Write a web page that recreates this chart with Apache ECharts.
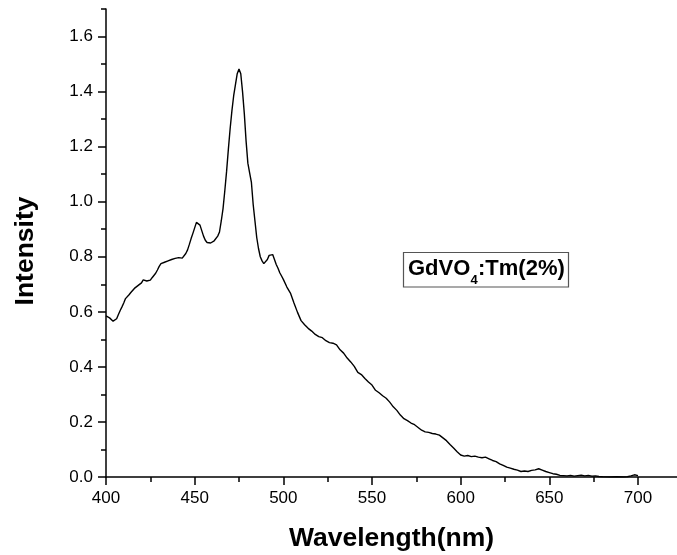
<!DOCTYPE html>
<html>
<head>
<meta charset="utf-8">
<script src="https://cdn.jsdelivr.net/npm/echarts@6/dist/echarts.min.js"></script>
<style>
  html, body { margin: 0; padding: 0; background: #fff; }
  #chart { width: 677px; height: 555px; }
</style>
</head>
<body>
<div id="chart"></div>
<script>
// wavelength (nm) and intensity
const wavelength = [
  400, 401, 402, 403, 404, 405, 406, 407, 408, 409,
  410, 411, 412, 413, 414, 415, 416, 417, 418, 419,
  420, 421, 422, 423, 424, 425, 426, 427, 428, 429,
  430, 431, 432, 433, 434, 435, 436, 437, 438, 439,
  440, 441, 442, 443, 444, 445, 446, 447, 448, 449,
  450, 451, 452, 453, 454, 455, 456, 457, 458, 459,
  460, 461, 462, 463, 464, 465, 466, 467, 468, 469,
  470, 471, 472, 473, 474, 475, 476, 477, 478, 479,
  480, 481, 482, 483, 484, 485, 486, 487, 488, 489,
  490, 491, 492, 493, 494, 495, 496, 497, 498, 499,
  500, 502, 504, 506, 508, 510, 512, 514, 516, 518,
  520, 522, 524, 526, 528, 530, 532, 534, 536, 538,
  540, 542, 544, 546, 548, 550, 552, 554, 556, 558,
  560, 562, 564, 566, 568, 570, 572, 574, 576, 578,
  580, 582, 584, 586, 588, 590, 592, 594, 596, 598,
  600, 602, 604, 606, 608, 610, 612, 614, 616, 618,
  620, 622, 624, 626, 628, 630, 632, 634, 636, 638,
  640, 642, 644, 646, 648, 650, 652, 654, 656, 658,
  660, 662, 664, 666, 668, 670, 672, 674, 676, 678,
  680, 684, 688, 692, 694, 696, 698, 699, 700
];
const intensity = [
  0.585, 0.580, 0.578, 0.572, 0.566, 0.568, 0.575, 0.590, 0.605, 0.618,
  0.632, 0.648, 0.655, 0.662, 0.670, 0.675, 0.685, 0.688, 0.695, 0.699,
  0.705, 0.716, 0.710, 0.712, 0.706, 0.715, 0.724, 0.732, 0.740, 0.752,
  0.765, 0.775, 0.772, 0.780, 0.778, 0.785, 0.782, 0.790, 0.788, 0.794,
  0.790, 0.797, 0.792, 0.795, 0.800, 0.812, 0.825, 0.845, 0.866, 0.885,
  0.905, 0.925, 0.928, 0.915, 0.895, 0.875, 0.860, 0.852, 0.848, 0.850,
  0.853, 0.858, 0.865, 0.875, 0.890, 0.930, 0.975, 1.040, 1.110, 1.190,
  1.265, 1.330, 1.385, 1.425, 1.465, 1.482, 1.465, 1.400, 1.320, 1.220,
  1.140, 1.105, 1.070, 0.990, 0.930, 0.870, 0.830, 0.800, 0.785, 0.775,
  0.772, 0.790, 0.805, 0.812, 0.808, 0.790, 0.772, 0.758, 0.742, 0.730,
  0.718, 0.690, 0.668, 0.632, 0.598, 0.568, 0.553, 0.540, 0.530, 0.518,
  0.510, 0.506, 0.495, 0.488, 0.486, 0.480, 0.462, 0.450, 0.432, 0.418,
  0.402, 0.380, 0.372, 0.358, 0.345, 0.334, 0.315, 0.306, 0.295, 0.286,
  0.272, 0.255, 0.242, 0.225, 0.212, 0.205, 0.196, 0.190, 0.180, 0.170,
  0.164, 0.162, 0.158, 0.156, 0.152, 0.142, 0.132, 0.118, 0.105, 0.092,
  0.080, 0.076, 0.078, 0.074, 0.076, 0.072, 0.070, 0.072, 0.066, 0.060,
  0.056, 0.048, 0.042, 0.036, 0.032, 0.028, 0.025, 0.020, 0.022, 0.020,
  0.024, 0.026, 0.030, 0.025, 0.020, 0.016, 0.012, 0.010, 0.006, 0.005,
  0.004, 0.006, 0.003, 0.005, 0.007, 0.004, 0.006, 0.003, 0.004, 0.002,
  0.001, 0.000, 0.001, 0.000, 0.001, 0.004, 0.008, 0.010, 0.005
];

const xMajorTicks = [400, 450, 500, 550, 600, 650, 700];
const xMinorTicks = [400, 425, 450, 475, 500, 525, 550, 575, 600, 625, 650, 675, 700];
const yMajorTicks = [0, 0.2, 0.4, 0.6, 0.8, 1.0, 1.2, 1.4, 1.6];
const yMinorTicks = [0, 0.1, 0.2, 0.3, 0.4, 0.5, 0.6, 0.7, 0.8, 0.9, 1.0, 1.1, 1.2, 1.3, 1.4, 1.5, 1.6, 1.7];

const font = 'Arial, "Liberation Sans", Helvetica, sans-serif';
const axisColor = '#000';

const chart = echarts.init(document.getElementById('chart'));

chart.setOption({
  animation: false,
  backgroundColor: '#fff',
  grid: { left: 106, right: 0, top: 9, bottom: 78, outerBoundsMode: 'none', containLabel: false },
  xAxis: [
    {
      type: 'value',
      position: 'bottom',
      min: 400,
      max: 722,
      name: 'Wavelength(nm)',
      nameLocation: 'middle',
      nameGap: 48,
      nameTextStyle: { fontFamily: font, fontSize: 26.5, fontWeight: 'bold', color: '#000' },
      axisLine: { show: true, onZero: false, lineStyle: { color: axisColor, width: 1.5 } },
      axisTick: { show: true, inside: false, length: 8, customValues: xMajorTicks, lineStyle: { color: axisColor, width: 1.5 } },
      axisLabel: { customValues: xMajorTicks, margin: 13, fontFamily: font, fontSize: 17, color: '#000' },
      splitLine: { show: false }
    },
    {
      type: 'value',
      position: 'bottom',
      min: 400,
      max: 722,
      axisLine: { show: false },
      axisTick: { show: true, inside: false, length: 5, customValues: xMinorTicks, lineStyle: { color: axisColor, width: 1.5 } },
      axisLabel: { show: false },
      splitLine: { show: false }
    }
  ],
  yAxis: [
    {
      type: 'value',
      position: 'left',
      min: 0,
      max: 1.7,
      name: 'Intensity',
      nameLocation: 'middle',
      nameGap: 67,
      nameTextStyle: { fontFamily: font, fontSize: 26.5, fontWeight: 'bold', color: '#000', padding: [0, 16, 0, 0] },
      axisLine: { show: true, onZero: false, lineStyle: { color: axisColor, width: 1.5 } },
      axisTick: { show: true, inside: false, length: 8, customValues: yMajorTicks, lineStyle: { color: axisColor, width: 1.5 } },
      axisLabel: {
        customValues: yMajorTicks,
        margin: 13,
        fontFamily: font,
        fontSize: 17,
        color: '#000',
        formatter: v => v.toFixed(1)
      },
      splitLine: { show: false }
    },
    {
      type: 'value',
      position: 'left',
      min: 0,
      max: 1.7,
      axisLine: { show: false },
      axisTick: { show: true, inside: false, length: 5, customValues: yMinorTicks, lineStyle: { color: axisColor, width: 1.5 } },
      axisLabel: { show: false },
      splitLine: { show: false }
    }
  ],
  series: [
    {
      type: 'line',
      xAxisIndex: 0,
      yAxisIndex: 0,
      data: wavelength.map((w, i) => [w, intensity[i]]),
      showSymbol: false,
      lineStyle: { color: '#000', width: 1.4 }
    }
  ],
  graphic: [
    {
      type: 'rect',
      shape: { x: 403.5, y: 252.5, width: 165, height: 34.5 },
      style: { fill: '#fff', stroke: '#555', lineWidth: 1.2 }
    },
    {
      type: 'text',
      style: { x: 408, y: 268.5, text: 'GdVO', font: 'bold 22px ' + font, fill: '#000', verticalAlign: 'middle', align: 'left' }
    },
    {
      type: 'text',
      style: { x: 470.5, y: 280, text: '4', font: 'bold 13px ' + font, fill: '#000', verticalAlign: 'middle', align: 'left' }
    },
    {
      type: 'text',
      style: { x: 478, y: 268.5, text: ':Tm(2%)', font: 'bold 22px ' + font, fill: '#000', verticalAlign: 'middle', align: 'left' }
    }
  ]
});
</script>
</body>
</html>
